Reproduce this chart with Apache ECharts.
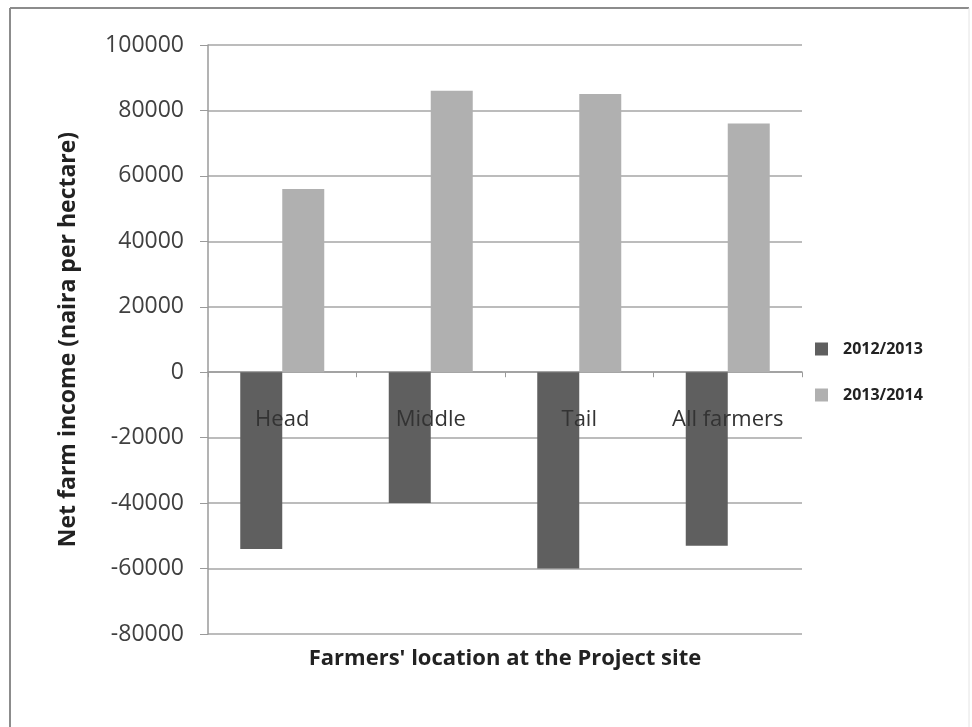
<!DOCTYPE html>
<html>
<head>
<meta charset="utf-8">
<title>Net farm income</title>
<script src="https://cdn.jsdelivr.net/npm/echarts@6/dist/echarts.min.js"></script>
<style>
  html, body { margin: 0; padding: 0; background: #fff; }
  #chart { width: 972px; height: 727px; }
</style>
</head>
<body>
<div id="chart"></div>
<script>
// data
const categories = ['Head', 'Middle', 'Tail', 'All farmers'];
const seriesNames = ['2012/2013', '2013/2014'];
const income2012 = [-54000, -40000, -60000, -53000];
const income2013 = [56000, 86000, 85000, 76000];

const FONT = '"Open Sans", "Liberation Sans", sans-serif';

const chart = echarts.init(document.getElementById('chart'));

const option = {
  backgroundColor: '#fff',
  animation: false,
  textStyle: { fontFamily: FONT },
  // frame around the whole chart
  graphic: [
    { type: 'line', shape: { x1: 10, y1: 8, x2: 969, y2: 8 }, style: { stroke: '#8c8c8c', lineWidth: 2 } },
    { type: 'line', shape: { x1: 10, y1: 8, x2: 10, y2: 727 }, style: { stroke: '#8c8c8c', lineWidth: 2 } },
    { type: 'line', shape: { x1: 969, y1: 8, x2: 969, y2: 727 }, style: { stroke: '#e4e4e4', lineWidth: 1 } }
  ],
  grid: {
    left: 208,
    right: 170,
    top: 45,
    bottom: 93,
    containLabel: false
  },
  legend: {
    orient: 'vertical',
    left: 815,
    top: 341,
    padding: 0,
    itemWidth: 13,
    itemHeight: 13,
    itemGap: 30,
    icon: 'rect',
    data: seriesNames,
    textStyle: { fontFamily: FONT, fontSize: 16, fontWeight: 'bold', color: '#222', padding: [0, 0, 0, 10] }
  },
  xAxis: [
    {
      // axis line and ticks through zero
      type: 'category',
      data: categories,
      axisLine: { onZero: true, lineStyle: { color: '#9a9a9a', width: 1.5 } },
      axisTick: { show: true, length: 5, lineStyle: { color: '#9a9a9a' } },
      axisLabel: { show: false }
    },
    {
      // category labels just under zero, and the axis title under the plot
      type: 'category',
      position: 'bottom',
      data: categories,
      axisLine: { show: false, onZero: false },
      axisTick: { show: false },
      axisLabel: { margin: -225, fontSize: 22, color: '#333', fontFamily: FONT },
      name: "Farmers' location at the Project site",
      nameLocation: 'middle',
      nameGap: 14,
      nameMoveOverlap: false,
      nameTextStyle: { fontSize: 22, fontWeight: 'bold', color: '#222', fontFamily: FONT, verticalAlign: 'top' },
      z: 5
    }
  ],
  yAxis: {
    type: 'value',
    min: -80000,
    max: 100000,
    interval: 20000,
    name: 'Net farm income (naira per hectare)',
    nameLocation: 'middle',
    nameGap: 128,
    nameTextStyle: { fontSize: 23, fontWeight: 'bold', color: '#222', fontFamily: FONT },
    axisLine: { show: true, lineStyle: { color: '#9a9a9a', width: 1.5 } },
    axisTick: { show: true, length: 8, lineStyle: { color: '#9a9a9a' } },
    axisLabel: {
      margin: 24,
      fontSize: 23,
      color: '#404040',
      fontFamily: FONT,
      formatter: (v) => String(v)
    },
    splitLine: { show: true, lineStyle: { color: '#a6a6a6', width: 1.5 } }
  },
  series: [
    {
      name: seriesNames[0],
      type: 'bar',
      data: income2012,
      barWidth: 42,
      barGap: '0%',
      itemStyle: { color: '#5f5f5f' }
    },
    {
      name: seriesNames[1],
      type: 'bar',
      data: income2013,
      barWidth: 42,
      barGap: '0%',
      itemStyle: { color: '#b0b0b0' }
    }
  ]
};

chart.setOption(option);
</script>
</body>
</html>
